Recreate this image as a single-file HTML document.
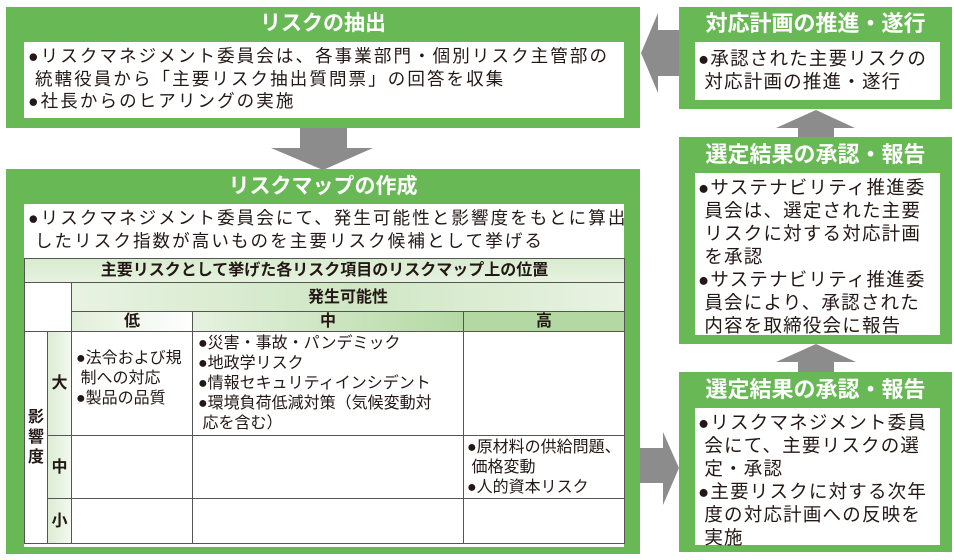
<!DOCTYPE html>
<html><head><meta charset="utf-8"><style>
*{margin:0;padding:0;box-sizing:border-box}
body{width:954px;height:560px;background:#fff;position:relative;overflow:hidden;font-family:"Liberation Sans","Noto Sans CJK JP",sans-serif;color:#231815}
.g{position:absolute;background:#69b856}
.w{position:absolute;background:#fff}
.t{position:absolute;color:#fff;font-weight:bold;font-size:21px;text-align:center;line-height:24px;white-space:nowrap}
.tx{position:absolute;font-size:17.5px;line-height:22.5px;white-space:nowrap;letter-spacing:2.1px}
.r{font-size:18.5px;line-height:23px;letter-spacing:1.2px}
.c{position:absolute;border:1px solid #555;font-size:16px;line-height:19px;white-space:nowrap}
.cc{display:flex;align-items:center;justify-content:center}
</style></head><body>
<div class="g" style="left:6px;top:7px;width:634px;height:121px"></div>
<div class="t" style="left:6px;top:12px;width:634px">リスクの抽出</div>
<div class="w" style="left:24px;top:42px;width:600px;height:76px"></div>
<div class="tx" style="left:28px;top:45px">●リスクマネジメント委員会は、各事業部門・個別リスク主管部の<br>&nbsp;統轄役員から「主要リスク抽出質問票」の回答を収集<br>●社長からのヒアリングの実施</div>
<svg style="position:absolute;left:0;top:0" width="954" height="560">
<polygon fill="#8c8c8c" points="300,128 347,128 347,148 373,148 323,170 271,148 300,148"/>
<polygon fill="#8c8c8c" points="641,53 658,13 658,30 679,30 679,76 658,76 658,93"/>
<polygon fill="#8c8c8c" points="798,137 834,137 834,128 855,128 816,110 776,128 798,128"/>
<polygon fill="#8c8c8c" points="798,372 834,372 834,362 856,362 816,344 776,362 798,362"/>
<polygon fill="#8c8c8c" points="640,448 663,448 663,432 679,468 663,505 663,483 640,483"/>
</svg>
<div class="g" style="left:6px;top:169px;width:634px;height:385px"></div>
<div class="t" style="left:6px;top:175px;width:634px">リスクマップの作成</div>
<div class="w" style="left:24px;top:204px;width:600px;height:343px"></div>
<div class="tx" style="left:28px;top:207px">●リスクマネジメント委員会にて、発生可能性と影響度をもとに算出<br>&nbsp;したリスク指数が高いものを主要リスク候補として挙げる</div>
<div class="c cc" style="left:24px;top:258px;width:601px;height:25px;background:linear-gradient(#d8ebcf,#e6f2df);font-weight:bold">主要リスクとして挙げた各リスク項目のリスクマップ上の位置</div>
<div class="c" style="left:24px;top:282px;width:48px;height:50px;background:#fff"></div>
<div class="c cc" style="left:71px;top:282px;width:554px;height:30px;background:linear-gradient(90deg,#e8f3e2,#cfe6c4 50%,#e8f3e2);font-weight:bold">発生可能性</div>
<div class="c cc" style="left:71px;top:311px;width:122px;height:21px;background:linear-gradient(90deg,#e0efd8,#fff);font-weight:bold">低</div>
<div class="c cc" style="left:192px;top:311px;width:272px;height:21px;background:linear-gradient(90deg,#e6f2e0,#b5d9a4);font-weight:bold">中</div>
<div class="c cc" style="left:463px;top:311px;width:162px;height:21px;background:#b3d8a2;font-weight:bold">高</div>
<div class="c cc" style="left:24px;top:331px;width:24px;height:213px;background:#fff;font-weight:bold;line-height:20px;text-align:center"><div>影<br>響<br>度</div></div>
<div class="c cc" style="left:47px;top:331px;width:25px;height:105px;background:linear-gradient(90deg,#dcedd3,#f2f8ee);font-weight:bold">大</div>
<div class="c cc" style="left:47px;top:435px;width:25px;height:64px;background:linear-gradient(90deg,#dcedd3,#f2f8ee);font-weight:bold">中</div>
<div class="c cc" style="left:47px;top:498px;width:25px;height:46px;background:linear-gradient(90deg,#dcedd3,#f2f8ee);font-weight:bold">小</div>
<div class="c" style="left:71px;top:331px;width:122px;height:105px;padding:17px 0 0 4px;line-height:20px">●法令および規<br>&nbsp;制への対応<br>●製品の品質</div>
<div class="c" style="left:192px;top:331px;width:272px;height:105px;padding:2px 0 0 5px;line-height:20px">●災害・事故・パンデミック<br>●地政学リスク<br>●情報セキュリティインシデント<br>●環境負荷低減対策（気候変動対<br>&nbsp;応を含む）</div>
<div class="c" style="left:463px;top:331px;width:162px;height:105px"></div>
<div class="c" style="left:71px;top:435px;width:122px;height:64px"></div>
<div class="c" style="left:192px;top:435px;width:272px;height:64px"></div>
<div class="c" style="left:463px;top:435px;width:162px;height:64px;padding:2px 0 0 3px;line-height:20px">●原材料の供給問題、<br>&nbsp;価格変動<br>●人的資本リスク</div>
<div class="c" style="left:71px;top:498px;width:122px;height:46px"></div>
<div class="c" style="left:192px;top:498px;width:272px;height:46px"></div>
<div class="c" style="left:463px;top:498px;width:162px;height:46px"></div>

<div class="g" style="left:679px;top:7px;width:273px;height:102px"></div>
<div class="t" style="left:679px;top:12px;width:273px;font-size:22px">対応計画の推進・遂行</div>
<div class="w" style="left:695px;top:42px;width:245px;height:58px"></div>
<div class="tx r" style="left:698px;top:47px">●承認された主要リスクの<br>&nbsp;対応計画の推進・遂行</div>

<div class="g" style="left:679px;top:137px;width:273px;height:207px"></div>
<div class="t" style="left:679px;top:143px;width:273px;font-size:22px">選定結果の承認・報告</div>
<div class="w" style="left:695px;top:173px;width:245px;height:162px"></div>
<div class="tx r" style="left:698px;top:176px">●サステナビリティ推進委<br>&nbsp;員会は、選定された主要<br>&nbsp;リスクに対する対応計画<br>&nbsp;を承認<br>●サステナビリティ推進委<br>&nbsp;員会により、承認された<br>&nbsp;内容を取締役会に報告</div>

<div class="g" style="left:679px;top:372px;width:273px;height:180px"></div>
<div class="t" style="left:679px;top:378px;width:273px;font-size:22px">選定結果の承認・報告</div>
<div class="w" style="left:695px;top:408px;width:245px;height:137px"></div>
<div class="tx r" style="left:698px;top:411px">●リスクマネジメント委員<br>&nbsp;会にて、主要リスクの選<br>&nbsp;定・承認<br>●主要リスクに対する次年<br>&nbsp;度の対応計画への反映を<br>&nbsp;実施</div>
</body></html>
